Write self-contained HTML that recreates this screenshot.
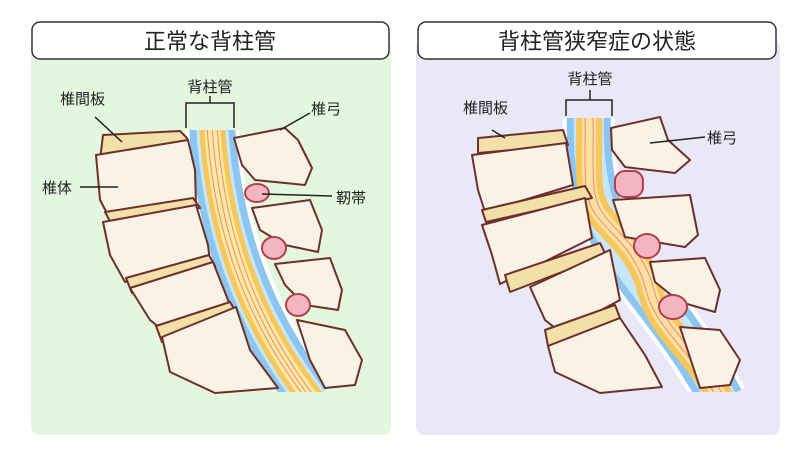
<!DOCTYPE html>
<html><head><meta charset="utf-8"><style>
body{margin:0;width:800px;height:457px;background:#fff;overflow:hidden}
svg{display:block}
text{font-family:"Liberation Sans","Noto Sans CJK JP",sans-serif;fill:#222}
</style></head><body>
<svg width="800" height="457" viewBox="0 0 800 457">
<defs>
<clipPath id="cl"><path d="M31,55 H391 V370 L330,392 H31 Z"/></clipPath>
<clipPath id="cr"><path d="M416,55 H780 V370 L745,392 H416 Z"/></clipPath>
</defs>
<rect x="31" y="40" width="360" height="395" rx="8" fill="#e3f7df"/>
<rect x="416" y="40" width="364" height="395" rx="8" fill="#e9e8f7"/>
<rect x="32" y="22" width="357" height="37" rx="8" fill="#fff" stroke="#333" stroke-width="1.5"/>
<rect x="418" y="22" width="358" height="37" rx="8" fill="#fff" stroke="#333" stroke-width="1.5"/>
<text x="210" y="49" font-size="22" text-anchor="middle">正常な背柱管</text>
<text x="597" y="49" font-size="22" text-anchor="middle">背柱管狭窄症の状態</text>

<g stroke="#6e2f2a" stroke-width="2" stroke-linejoin="round">
<g clip-path="url(#cl)" fill="none">
<path d="M212,125 C218,230 250,320 312,400" stroke="#fff" stroke-width="54"/>
<path d="M212,125 C218,230 250,320 312,400" stroke="#8cc6ef" stroke-width="46"/>
<path d="M212,125 C218,230 250,320 312,400" stroke="#c8e6fa" stroke-width="32"/>
<path d="M212,125 C218,230 250,320 312,400" stroke="#f6c75a" stroke-width="26"/>
<path d="M212,125 C218,230 250,320 312,400" stroke="#fbe9a2" stroke-width="16"/>
<path d="M207,125 C213,230 245,320 307,400" stroke="#f08a7a" stroke-width="1"/>
<path d="M212,125 C218,230 250,320 312,400" stroke="#f08a7a" stroke-width="1"/>
<path d="M217,125 C223,230 255,320 317,400" stroke="#f08a7a" stroke-width="1"/>
</g>
<rect x="180" y="118" width="60" height="12" fill="#e3f7df" stroke="none"/>
<path fill="#f3dfa8" d="M103,135 L180,131 L187,138 L186,152 L100,160 Z"/>
<path fill="#f8f3e6" d="M96,155 L188,140 L195,170 L196,205 L108,215 L100,200 Z"/>
<path fill="#f3dfa8" d="M105,212 L193,198 L200,208 L112,225 Z"/>
<path fill="#f8f3e6" d="M103,222 L196,205 L208,245 L210,262 L125,282 L110,255 Z"/>
<path fill="#f3dfa8" d="M126,278 L209,255 L215,266 L132,293 Z"/>
<path fill="#f8f3e6" d="M130,288 L213,262 L230,305 L165,332 L150,320 Z"/>
<path fill="#f3dfa8" d="M156,326 L230,302 L236,312 L162,342 Z"/>
<path fill="#f8f3e6" d="M162,337 L236,307 L250,350 L278,388 L215,393 L170,372 Z"/>
<path fill="#f8f3e6" d="M234,138 L285,128 L298,140 L312,168 L305,185 L255,180 L242,165 Z"/>
<ellipse cx="257" cy="193" rx="12" ry="9" fill="#f3b6c0" stroke="#b0404e"/>
<path fill="#f8f3e6" d="M252,208 L310,200 L322,230 L318,252 L285,245 L260,230 Z"/>
<ellipse cx="274" cy="248" rx="12" ry="11" fill="#f3b6c0" stroke="#b0404e"/>
<path fill="#f8f3e6" d="M275,264 L330,258 L342,290 L338,310 L305,305 L285,285 Z"/>
<ellipse cx="298" cy="305" rx="12" ry="11" fill="#f3b6c0" stroke="#b0404e"/>
<path fill="#f8f3e6" d="M297,320 L345,330 L362,360 L355,385 L325,388 L310,360 Z"/>

<g clip-path="url(#cr)" fill="none">
<path d="M589,115 C586,200 610,240 640,280 S695,350 722,400" stroke="#fff" stroke-width="52"/>
<path d="M589,115 C586,200 610,240 640,280 S695,350 722,400" stroke="#8cc6ef" stroke-width="44"/>
<path d="M589,115 C586,200 610,240 640,280 S695,350 722,400" stroke="#c8e6fa" stroke-width="30"/>
<path d="M589,115 C590,170 585,195 600,215 S640,250 650,290 S695,350 722,400" stroke="#f6c75a" stroke-width="26"/>
<path d="M589,115 C590,170 585,195 600,215 S640,250 650,290 S695,350 722,400" stroke="#fbe0a0" stroke-width="14"/>
<path d="M585,115 C586,170 581,195 596,215 S636,250 646,290 S691,350 718,400" stroke="#f08a7a" stroke-width="1"/>
<path d="M593,115 C594,170 589,195 604,215 S644,250 654,290 S699,350 726,400" stroke="#f08a7a" stroke-width="1"/>
</g>
<rect x="560" y="108" width="60" height="10" fill="#e9e8f7" stroke="none"/>
<path fill="#f3dfa8" d="M478,138 L563,130 L568,145 L478,153 Z"/>
<path fill="#f8f3e6" d="M472,155 L566,143 L573,185 L485,212 L478,190 Z"/>
<path fill="#f3dfa8" d="M482,210 L585,186 L592,198 L486,222 Z"/>
<path fill="#f8f3e6" d="M482,225 L585,198 L592,238 L500,284 L492,255 Z"/>
<path fill="#f3dfa8" d="M505,275 L600,243 L606,255 L510,292 Z"/>
<path fill="#f8f3e6" d="M530,287 L610,250 L620,300 L560,332 L545,320 Z"/>
<path fill="#f3dfa8" d="M545,330 L615,305 L620,318 L548,346 Z"/>
<path fill="#f8f3e6" d="M548,346 L620,318 L645,355 L662,387 L600,393 L555,372 Z"/>
<path fill="#f8f3e6" d="M611,128 L660,117 L668,140 L690,160 L675,173 L625,167 L612,150 Z"/>
<rect x="615" y="171" width="28" height="26" rx="10" fill="#f3b6c0" stroke="#b0404e"/>
<path fill="#f8f3e6" d="M613,200 L690,195 L698,235 L685,247 L625,237 Z"/>
<ellipse cx="647" cy="246" rx="13" ry="12" fill="#f3b6c0" stroke="#b0404e"/>
<path fill="#f8f3e6" d="M650,262 L705,258 L720,290 L715,312 L680,302 L655,282 Z"/>
<ellipse cx="673" cy="307" rx="14" ry="12" fill="#f3b6c0" stroke="#b0404e"/>
<path fill="#f8f3e6" d="M680,327 L720,330 L740,360 L730,385 L700,388 Z"/>
</g>

<g stroke="#222" stroke-width="1.5" fill="none">
<path d="M95,117 L122,142"/><path d="M80,187 L118,187"/>
<path d="M210,96 V103 M186,128 V103 H234 V128"/>
<path d="M280,130 L310,113"/><path d="M262,194 L332,196"/>
<path d="M492,130 L505,138"/>
<path d="M590,90 V100 M566,116 V100 H612 V116"/>
<path d="M650,143 L705,137"/>
</g>
<g font-size="15">
<text x="60" y="104">椎間板</text>
<text x="42" y="193">椎体</text>
<text x="210" y="92" text-anchor="middle">背柱管</text>
<text x="311" y="114">椎弓</text>
<text x="336" y="203">靭帯</text>
<text x="463" y="113">椎間板</text>
<text x="590" y="84" text-anchor="middle">背柱管</text>
<text x="707" y="143">椎弓</text>
</g>
</svg>
</body></html>
